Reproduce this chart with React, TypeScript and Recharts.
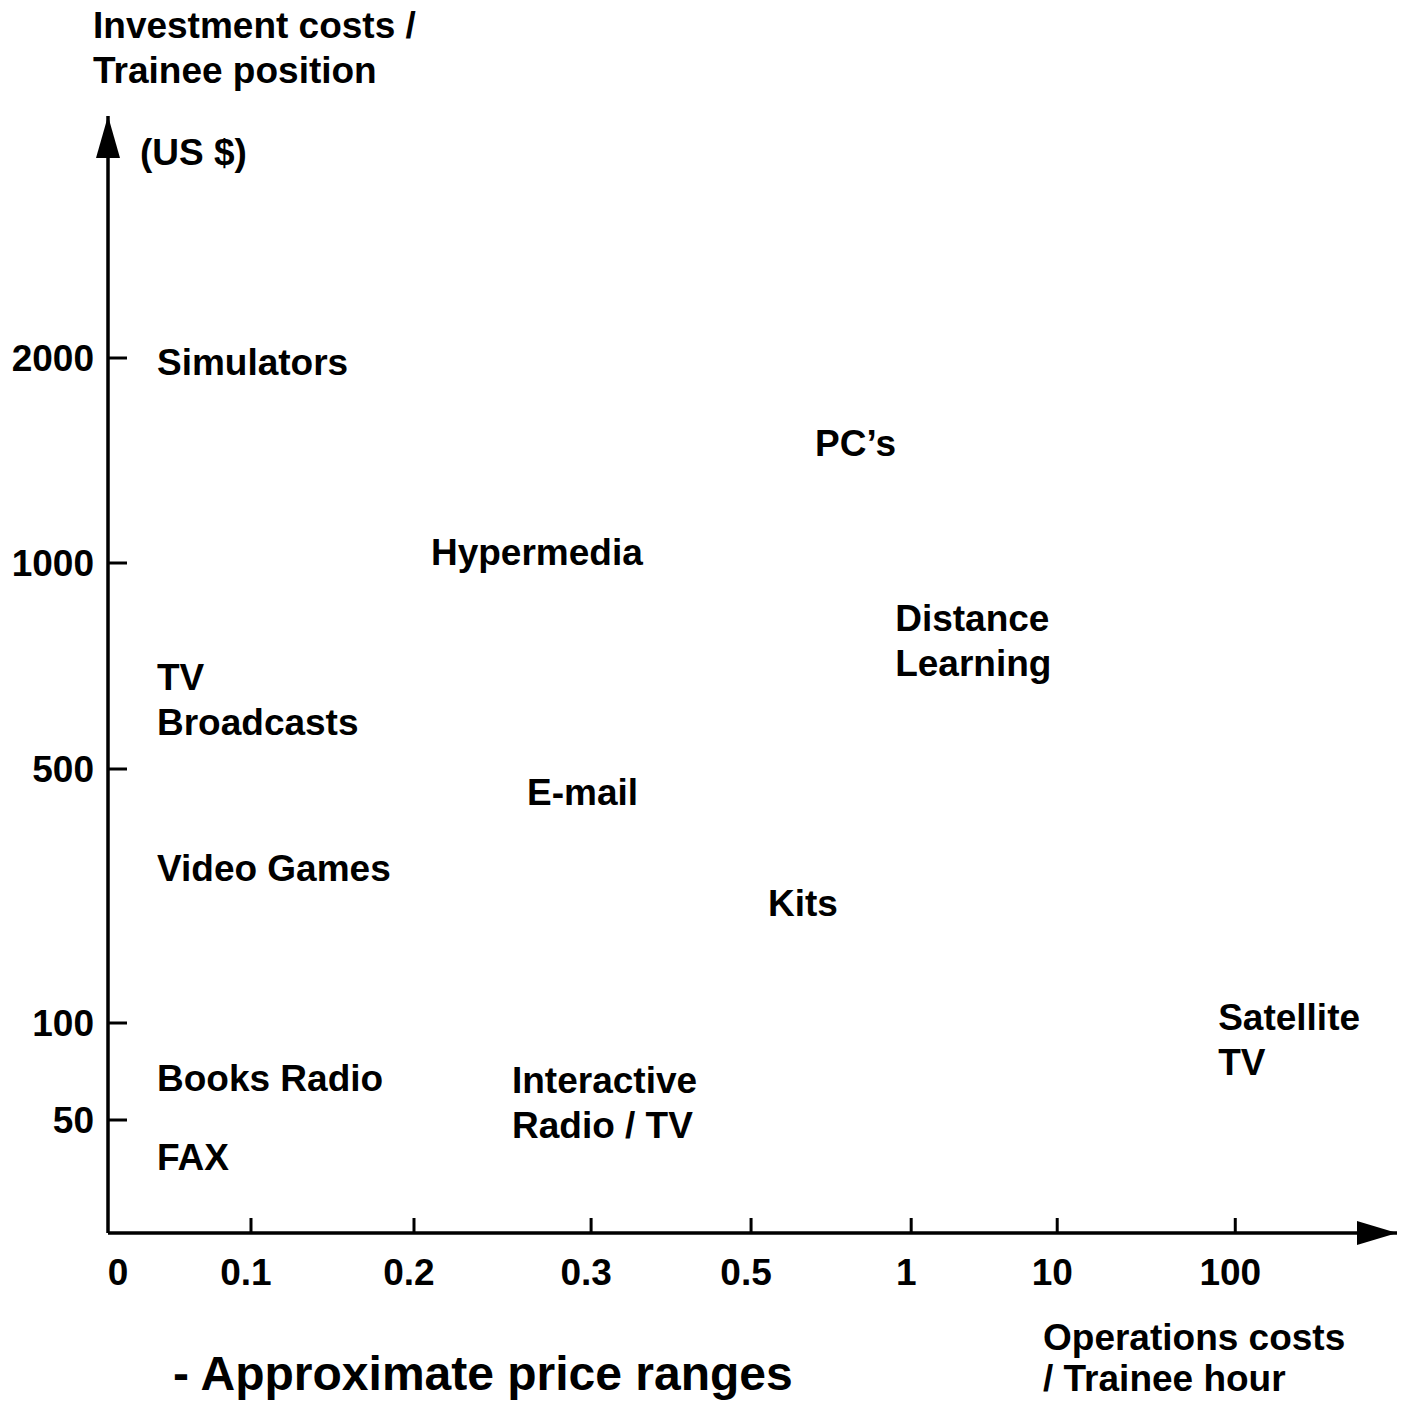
import { ScatterChart, Scatter, XAxis, YAxis } from 'recharts';

// axis is not linear in the original, ticks sit where the drawing put them
const xTickLabels = ['0', '0.1', '0.2', '0.3', '0.5', '1', '10', '100'];
const xTickPos = [0, 0.893, 1.911, 3.017, 4.016, 5.016, 5.928, 7.04];
const yTickLabels = ['50', '100', '500', '1000', '2000'];
const yTickPos = [1.13, 2.1, 4.64, 6.7, 8.75];
const xMax = 8.05;
const yMax = 11.17;

const mediaNames = [
  'Simulators',
  'PC’s',
  'Hypermedia',
  'Distance\nLearning',
  'TV\nBroadcasts',
  'E-mail',
  'Video Games',
  'Kits',
  'Satellite\nTV',
  'Books Radio',
  'Interactive\nRadio / TV',
  'FAX',
];
const mediaX = [0.306, 4.416, 2.017, 4.916, 0.306, 2.617, 0.306, 4.122, 6.933, 0.306, 2.523, 0.306];
const mediaY = [8.71, 7.9, 6.81, 6.15, 5.56, 4.41, 3.65, 3.3, 2.16, 1.55, 1.53, 0.76];

const FONT = '"Liberation Sans", Arial, Helvetica, sans-serif';
const INK = '#000';
const FS = 37;

const mediaData = mediaNames.map((name, i) => ({ name, x: mediaX[i], y: mediaY[i] }));
const xTickData = xTickPos.slice(1).map((x) => ({ x, y: 0 }));
const yTickData = yTickPos.map((y) => ({ x: 0, y }));
const arrowData = [
  { x: xMax, y: 0, dir: 'right' },
  { x: 0, y: yMax, dir: 'up' },
];

function MediaLabel(props: any) {
  const { cx, cy, payload } = props;
  const lines: string[] = payload.name.split('\n');
  return (
    <text x={cx} y={cy} fontFamily={FONT} fontWeight={700} fontSize={FS} fill={INK}>
      {lines.map((l, i) => (
        <tspan key={l} x={cx} dy={i === 0 ? '0.36em' : 45}>{l}</tspan>
      ))}
    </text>
  );
}

function XTickMark(props: any) {
  const { cx, cy } = props;
  return <line x1={cx} y1={cy} x2={cx} y2={cy - 15} stroke={INK} strokeWidth={3} />;
}

function YTickMark(props: any) {
  const { cx, cy } = props;
  return <line x1={cx} y1={cy} x2={cx + 19} y2={cy} stroke={INK} strokeWidth={3} />;
}

function ArrowHead(props: any) {
  const { cx, cy, payload } = props;
  if (payload.dir === 'up') {
    return <polygon points={`${cx},${cy} ${cx - 12},${cy + 42} ${cx + 12},${cy + 42}`} fill={INK} />;
  }
  return <polygon points={`${cx},${cy} ${cx - 40},${cy - 12} ${cx - 40},${cy + 12}`} fill={INK} />;
}

function XTick(props: any) {
  const { x, y, index } = props;
  // the "0" sits a little right of the origin in the drawing
  const shift = index === 0 ? 10 : -5;
  return (
    <text x={x + shift} y={y} dy="0.71em" textAnchor="middle" fontFamily={FONT} fontWeight={700} fontSize={FS} fill={INK}>
      {xTickLabels[index]}
    </text>
  );
}

const textStyle = {
  position: 'absolute' as const,
  fontFamily: FONT,
  fontWeight: 700,
  color: INK,
  whiteSpace: 'nowrap' as const,
};

export default function App() {
  return (
    <div style={{ position: 'absolute', left: 0, top: 0, width: 1405, height: 1401, background: '#fff', overflow: 'hidden' }}>
      <ScatterChart
        width={1405}
        height={1401}
        margin={{ top: 116, right: 8, bottom: 108, left: 8 }}
      >
        <XAxis
          type="number"
          dataKey="x"
          domain={[0, xMax]}
          ticks={xTickPos}
          interval={0}
          tickLine={false}
          tickSize={0}
          tickMargin={26}
          height={60}
          axisLine={{ stroke: INK, strokeWidth: 3.5 }}
          tick={(p: any) => <XTick {...p} />}
        />
        <YAxis
          type="number"
          dataKey="y"
          domain={[0, yMax]}
          ticks={yTickPos}
          interval={0}
          tickFormatter={(_v: number, i: number) => yTickLabels[i]}
          tickLine={false}
          tickSize={0}
          tickMargin={14}
          width={100}
          axisLine={{ stroke: INK, strokeWidth: 3.5 }}
          tick={{ fill: INK, fontSize: FS, fontWeight: 700, fontFamily: FONT }}
        />
        <Scatter data={xTickData} shape={(p: any) => <XTickMark {...p} />} isAnimationActive={false} />
        <Scatter data={yTickData} shape={(p: any) => <YTickMark {...p} />} isAnimationActive={false} />
        <Scatter data={arrowData} shape={(p: any) => <ArrowHead {...p} />} isAnimationActive={false} />
        <Scatter data={mediaData} shape={(p: any) => <MediaLabel {...p} />} isAnimationActive={false} />
      </ScatterChart>

      <div style={{ ...textStyle, left: 93, top: 3, fontSize: FS, lineHeight: '45px' }}>
        Investment costs /<br />Trainee position
      </div>
      <div style={{ ...textStyle, left: 140, top: 134, fontSize: FS, lineHeight: '37px' }}>(US $)</div>
      <div style={{ ...textStyle, left: 1043, top: 1317, fontSize: FS, lineHeight: '41px' }}>
        Operations costs<br />/ Trainee hour
      </div>
      <div style={{ ...textStyle, left: 173, top: 1350, fontSize: 48, lineHeight: '48px' }}>
        - Approximate price ranges
      </div>
    </div>
  );
}
